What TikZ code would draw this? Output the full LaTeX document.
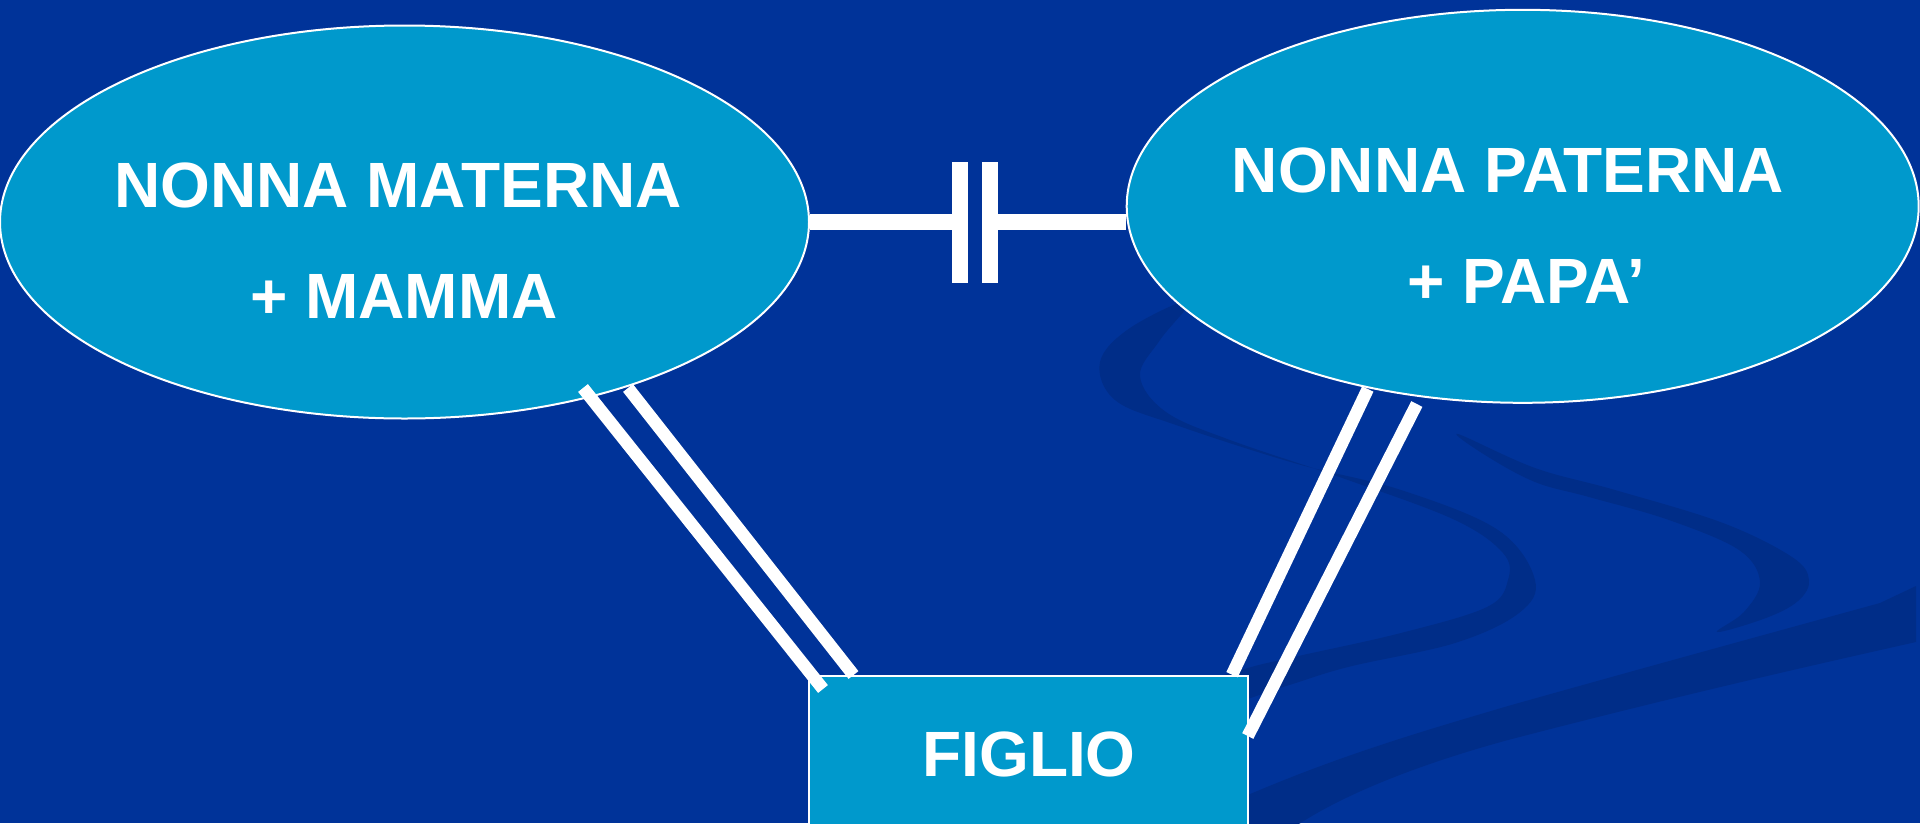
\documentclass[tikz,border=0pt]{standalone}
\usepackage{fontspec}
\setmainfont{Liberation Sans}
\usetikzlibrary{shapes.geometric}
\definecolor{bgblue}{RGB}{0,51,153}
\definecolor{swirlblue}{RGB}{0,45,136}
\definecolor{boxblue}{RGB}{0,153,204}
\begin{document}
\begin{tikzpicture}[x=1pt,y=-1pt,
  entity/.style={ellipse, draw=white, line width=2pt, fill=boxblue, inner sep=0pt},
  childbox/.style={rectangle, draw=white, line width=2pt, fill=boxblue, inner sep=0pt},
  txt/.style={text=white, font=\fontsize{64}{64}\selectfont\bfseries, inner sep=0pt, anchor=base},
  link/.style={draw=white, line width=12.5pt},
  hlink/.style={draw=white, line width=16pt},
  barnode/.style={fill=white, inner sep=0pt, minimum width=16pt, minimum height=121pt}]
\useasboundingbox (0,0) rectangle (1920,823);
\clip (0,0) rectangle (1920,823);
\fill[bgblue] (0,0) rectangle (1920,823);
% background swirls
\fill[swirlblue] plot[smooth cycle, tension=0.6] coordinates {
  (1190,300) (1130,328) (1100,362) (1115,400) (1176,425) (1294,463)
  (1401,490) (1498,530) (1535,580) (1519,613) (1455,643) (1348,667)
  (1283,687) (1200,712) (1150,700)
  (1241,670) (1294,657) (1401,633) (1487,607) (1508,580) (1503,553) (1455,520)
  (1348,480) (1230,440) (1166,412) (1140,376) (1160,340)};
\fill[swirlblue] plot[smooth cycle, tension=0.6] coordinates {
  (1458,434) (1535,468) (1615,490) (1723,523) (1792,557) (1809,580)
  (1798,601) (1766,618) (1717,632)
  (1744,612) (1760,582) (1739,550) (1669,520) (1589,497) (1535,482) (1485,455)};
\fill[swirlblue] (1225,805) .. controls (1330,758) and (1420,732) .. (1508,706)
  .. controls (1650,666) and (1800,625) .. (1880,603) -- (1916,586) -- (1916,642)
  .. controls (1800,668) and (1669,698) .. (1508,740)
  .. controls (1420,764) and (1340,795) .. (1290,830) -- (1225,830) -- cycle;
% entities
\node[entity, minimum width=809pt, minimum height=393pt] (mat) at (404.5,222) {};
\node[entity, minimum width=792pt, minimum height=393pt] (pat) at (1522.7,206.3) {};
\node[childbox, minimum width=438.5pt, minimum height=220pt, anchor=north west] (fig) at (808,674.7) {};
% texts
\node[txt] (matA) at (398,207) {NONNA MATERNA};
\node[txt] (matB) at (404,318.4) {+ MAMMA};
\node[txt] (patA) at (1508,192.2) {NONNA PATERNA};
\node[txt] (patB) at (1526,303.7) {+ PAPA’};
\node[txt] (figT) at (1029,776.3) {FIGLIO};
% horizontal connector with double bar
\node[barnode] (bar1) at (960,222) {};
\node[barnode] (bar2) at (990,222) {};
\coordinate (patin) at (pat.west |- mat.east);
\draw[hlink] (mat.east) -- (bar1.center);
\draw[hlink] (bar2.center) -- (patin);
% diagonal connectors
\coordinate (a1) at (583,388);
\coordinate (a2) at (823,689);
\coordinate (b1) at (628,388);
\coordinate (b2) at (853.5,675);
\coordinate (c1) at (1367.8,389);
\coordinate (c2) at (1232,674.7);
\coordinate (d1) at (1416.8,404);
\coordinate (d2) at (1247.8,736);
\draw[link] (a1) -- (a2);
\draw[link] (b1) -- (b2);
\draw[link] (c1) -- (c2);
\draw[link] (d1) -- (d2);
\end{tikzpicture}
\end{document}
